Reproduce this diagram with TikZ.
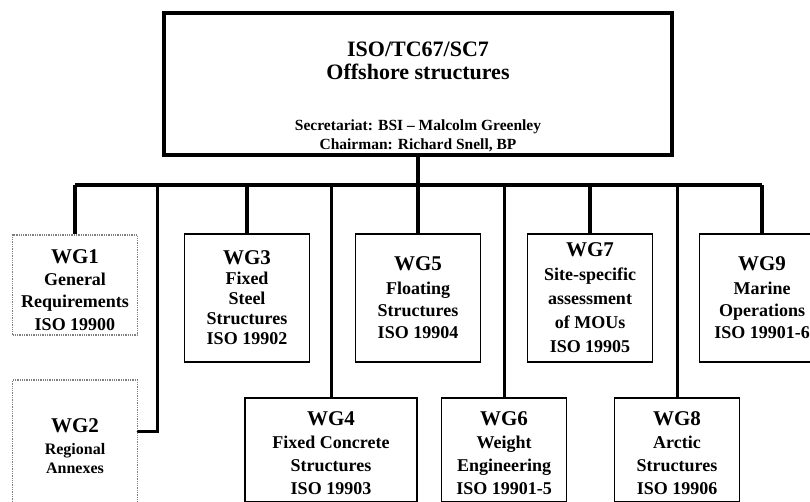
\documentclass[tikz,border=0pt]{standalone}
\usepackage{fontspec}
\setmainfont{Liberation Serif}
\usetikzlibrary{positioning}
\newcommand{\wgt}{\fontsize{21}{24}\selectfont}
\newcommand{\subline}{\fontsize{15.5}{18}\selectfont}

\begin{document}
\begin{tikzpicture}[
  x=1pt,y=-1pt,
  every node/.style={font=\fontsize{18}{22}\selectfont\bfseries,align=center,inner sep=0pt},
  headbox/.style={draw,line width=4.5pt,minimum width=508pt,minimum height=142pt,font=\fontsize{22}{23}\selectfont\bfseries},
  wgbox/.style={draw,line width=1.8pt,minimum width=125pt,minimum height=128pt},
  lowbox/.style={draw,line width=1.4pt,minimum width=125pt,minimum height=104pt},
  oldbox/.style={draw=black!50,densely dotted,line width=1.3pt,minimum width=125pt},
  bus/.style={line width=4pt},
  drop/.style={line width=3pt}
]
\useasboundingbox (0,0) rectangle (810,502);
\node[headbox] (sc7) at (418,84) {\mbox{}\\[17pt] ISO/TC67/SC7\\ Offshore structures\\[28pt]{\subline Secretariat: BSI -- Malcolm Greenley}\\[-4pt]{\subline Chairman: Richard Snell, BP}};
\coordinate (bus) at (418,185);
\node[oldbox,minimum height=100pt] (wg1) at (75,285) {\mbox{}\\[2pt]{\wgt WG1}\\[0pt] General\\ Requirements\\[1pt] ISO 19900};
\node[oldbox,minimum height=124pt] (wg2) at (75,442) {\mbox{}\\[1pt]{\wgt WG2}\\[0pt]{\fontsize{16}{18}\selectfont Regional}\\[-3pt]{\fontsize{16}{18}\selectfont Annexes}};
\node[wgbox] (wg3) at (247,298) {{\wgt WG3}\\[-2pt] Fixed\\[-2pt] Steel\\[-2pt] Structures\\[-2pt] ISO 19902};
\node[wgbox] (wg5) at (418,298) {{\wgt WG5}\\[2pt] Floating\\ Structures\\ ISO 19904};
\node[wgbox] (wg7) at (590,298) {{\wgt WG7}\\[2pt] Site-specific\\[2pt] assessment\\[2pt] of MOUs\\[2pt] ISO 19905};
\node[wgbox] (wg9) at (762,298) {{\wgt WG9}\\[2pt] Marine\\ Operations\\ ISO 19901-6};
\node[lowbox,minimum width=172pt] (wg4) at (331,450) {\mbox{}\\[-1pt]{\wgt WG4}\\[1pt] Fixed Concrete\\[1pt] Structures\\[1pt] ISO 19903};
\node[lowbox] (wg6) at (504,450) {\mbox{}\\[-1pt]{\wgt WG6}\\[1pt] Weight\\[1pt] Engineering\\[1pt] ISO 19901-5};
\node[lowbox] (wg8) at (677,450) {\mbox{}\\[-1pt]{\wgt WG8}\\[1pt] Arctic\\[1pt] Structures\\[1pt] ISO 19906};
\draw[bus] (wg1.north |- bus) -- (wg9.north |- bus);
\draw[bus] (sc7) -- (wg5);
\foreach \n in {wg1,wg3,wg7,wg9} \draw[bus] (\n.north |- bus) -- (\n);
\foreach \n in {wg4,wg6,wg8} \draw[drop] (\n.north |- bus) -- (\n);
\coordinate (tap) at (157,185);
\draw[drop,line cap=round] (tap) |- ([yshift=11pt]wg2.east);
\end{tikzpicture}
\end{document}
